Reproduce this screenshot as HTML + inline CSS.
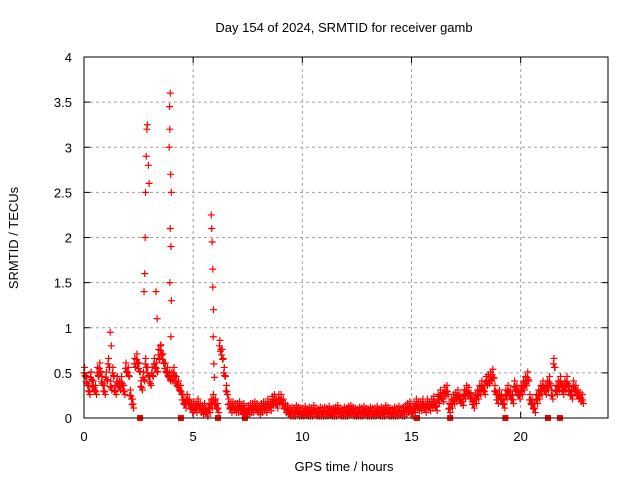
<!DOCTYPE html>
<html><head><meta charset="utf-8"><style>
body{margin:0;background:#fff}
svg text{font-family:"Liberation Sans",sans-serif;font-size:13px;fill:#000}
</style></head><body>
<svg width="640" height="480" xmlns="http://www.w3.org/2000/svg">
<rect width="640" height="480" fill="#fff"/>
<g id="grid"></g>
<g id="ticks"></g>
<g id="marks"></g>
<rect x="84" y="57" width="524" height="361" fill="none" stroke="#000" stroke-width="1"/>
<text x="344" y="32" text-anchor="middle">Day 154 of 2024, SRMTID for receiver gamb</text>
<text x="344" y="471" text-anchor="middle">GPS time / hours</text>
<text x="18" y="238" text-anchor="middle" transform="rotate(-90 18 238)">SRMTID / TECUs</text>
</svg>
<script>
const xTicks=[0,5,10,15,20];
const yTicks=[0,0.5,1,1.5,2,2.5,3,3.5,4];
const yTickLabels=["0","0.5","1","1.5","2","2.5","3","3.5","4"];
const baseStart=0, baseStep=0.1;
const baseValues=[
0.5,0.4,0.3,0.45,0.35,0.3,0.5,0.55,0.4,0.3,
0.45,0.6,0.35,0.5,0.3,0.4,0.35,0.4,0.3,0.55,
0.5,0.25,0.15,0.6,0.65,0.55,0.35,0.45,0.6,0.5,
0.4,0.5,0.6,0.55,0.7,0.75,0.65,0.55,0.5,0.45,
0.45,0.5,0.4,0.35,0.3,0.2,0.15,0.2,0.15,0.1,
0.12,0.1,0.15,0.1,0.08,0.1,0.05,0.1,0.15,0.2,
0.15,0.1,0.8,0.7,0.5,0.3,0.15,0.1,0.12,0.1,
0.1,0.12,0.08,0.1,0.05,0.08,0.1,0.1,0.12,0.1,
0.08,0.1,0.12,0.1,0.15,0.12,0.18,0.2,0.15,0.2,
0.2,0.15,0.1,0.08,0.05,0.06,0.05,0.08,0.06,0.05,
0.05,0.07,0.04,0.06,0.05,0.08,0.05,0.04,0.06,0.05,
0.06,0.05,0.07,0.04,0.05,0.06,0.08,0.05,0.04,0.06,
0.05,0.07,0.08,0.06,0.05,0.04,0.06,0.05,0.07,0.05,
0.04,0.06,0.05,0.05,0.07,0.04,0.06,0.05,0.08,0.06,
0.05,0.04,0.06,0.05,0.07,0.05,0.06,0.08,0.1,0.12,
0.05,0.1,0.15,0.12,0.12,0.15,0.1,0.15,0.12,0.15,
0.18,0.12,0.2,0.25,0.22,0.28,0.3,0.1,0.15,0.2,
0.22,0.25,0.2,0.18,0.25,0.3,0.28,0.22,0.15,0.2,
0.25,0.3,0.35,0.3,0.4,0.42,0.45,0.48,0.3,0.2,
0.25,0.2,0.15,0.25,0.3,0.25,0.2,0.35,0.3,0.25,
0.3,0.35,0.4,0.45,0.2,0.15,0.1,0.2,0.25,0.3,
0.35,0.3,0.35,0.4,0.25,0.6,0.3,0.35,0.4,0.3,
0.35,0.4,0.3,0.25,0.35,0.3,0.25,0.22,0.2];
const spikeTimes=[2.75,2.78,2.8,2.82,2.85,2.88,2.9,2.95,2.98,3.3,3.35,3.5,3.95,3.92,3.93,3.9,3.97,4.0,3.95,3.98,3.93,4.0,3.98,5.83,5.85,5.87,5.9,5.9,5.93,5.92,5.95,5.97,1.2,1.25];
const spikeValues=[1.4,1.6,2.0,2.5,2.9,3.2,3.25,2.8,2.6,1.4,1.1,0.8,3.6,3.45,3.2,3.0,2.7,2.5,2.1,1.9,1.5,1.3,0.9,2.25,2.1,1.95,1.65,1.45,1.2,0.9,0.6,0.45,0.95,0.8];
const zeroTimes=[2.57,4.44,6.14,7.37,15.25,16.77,19.3,21.25,21.8];

const X=t=>84+t*524/24, Y=v=>418-v*361/4;
const NS="http://www.w3.org/2000/svg";
function mk(tag,attrs,parent){const e=document.createElementNS(NS,tag);for(const k in attrs)e.setAttribute(k,attrs[k]);parent.appendChild(e);return e;}
const grid=document.getElementById('grid'),ticks=document.getElementById('ticks'),marks=document.getElementById('marks');
xTicks.forEach(t=>{const x=X(t);
 if(t>0){const g=mk('line',{x1:x,x2:x,y1:57,y2:418,stroke:'#a0a0a0','stroke-dasharray':'3,3'},grid);}
 mk('line',{x1:x,x2:x,y1:418,y2:412,stroke:'#000'},ticks);mk('line',{x1:x,x2:x,y1:57,y2:63,stroke:'#000'},ticks);
 const l=mk('text',{x:x,y:441,'text-anchor':'middle'},ticks);l.textContent=t;
 });
yTicks.forEach((v,i)=>{const y=Y(v);
 if(v>0&&v<4){const g=mk('line',{x1:84,x2:608,y1:y,y2:y,stroke:'#a0a0a0','stroke-dasharray':'3,3'},grid);}
 mk('line',{x1:84,x2:90,y1:y,y2:y,stroke:'#000'},ticks);mk('line',{x1:608,x2:602,y1:y,y2:y,stroke:'#000'},ticks);
 const l=mk('text',{x:72,y:y+5,'text-anchor':'end'},ticks);l.textContent=yTickLabels[i];
 });
function plus(t,v){const x=X(t),y=Y(v);
 const p=mk('path',{d:`M${x-3.5},${y}h7M${x},${y-3.5}v7`,stroke:'#f00','stroke-width':1.2,fill:'none'},marks);
 }
baseValues.forEach((v,i)=>{const t=baseStart+i*baseStep;
 plus(t,v);plus(t+0.05,v*0.9+0.02);
 plus(t+0.025,v+0.06);plus(t+0.075,Math.max(0.02,v-0.04));});
spikeTimes.forEach((t,i)=>plus(t,spikeValues[i]));
zeroTimes.forEach(t=>{const r=mk('rect',{x:X(t)-3,y:Y(0)-3,width:6,height:6,fill:'#f00'},marks);
 });
</script>
</body></html>
